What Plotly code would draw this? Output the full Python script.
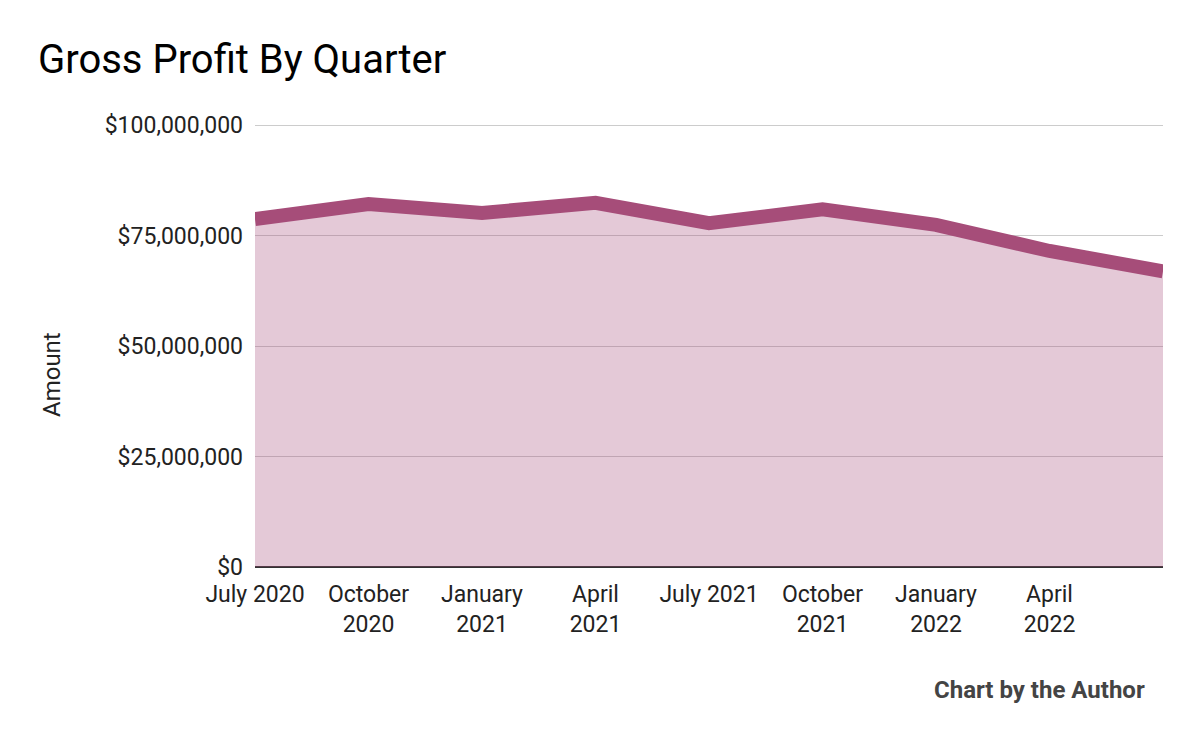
import plotly.graph_objects as go

quarters = ["July 2020", "October 2020", "January 2021", "April 2021", "July 2021",
            "October 2021", "January 2022", "April 2022", "July 2022"]
gross_profit = [78.7e6, 82.1e6, 80.1e6, 82.4e6, 77.8e6, 80.9e6, 77.4e6, 71.5e6, 66.9e6]
tick_labels = ["July 2020", "October<br>2020", "January<br>2021", "April<br>2021", "July 2021",
               "October<br>2021", "January<br>2022", "April<br>2022"]
y_ticks = [0, 25e6, 50e6, 75e6, 100e6]
y_tick_labels = ["$0", "$25,000,000", "$50,000,000", "$75,000,000", "$100,000,000"]

x_idx = list(range(len(quarters)))

# figure pixel geometry (page is offset by 8px body margin)
OFF = 8
W, H = 1200, 742
L, R = 255 - OFF, W - (1163 - OFF)
plot_bottom = 567 - OFF
grid_top = 125 - OFF
T = grid_top - 3
B = H - plot_bottom
y_top = 100e6 * (plot_bottom - T) / (plot_bottom - grid_top)

fig = go.Figure()
fig.add_trace(go.Scatter(
    x=x_idx, y=gross_profit, mode="lines",
    line=dict(color="#a64d79", width=14),
    fill="tozeroy", fillcolor="rgba(166,77,121,0.3)",
    hovertext=quarters, hoverinfo="text+y",
))

fig.update_layout(
    width=W, height=H,
    paper_bgcolor="white", plot_bgcolor="white",
    font=dict(family="Roboto", size=23, color="#222222"),
    margin=dict(l=L, r=R, t=T, b=B, autoexpand=False),
    showlegend=False,
    title=dict(text="Gross Profit By Quarter", x=(38 - OFF) / W, xanchor="left", xref="container",
               y=1 - (58.5 - OFF) / H, yanchor="middle", yref="container",
               font=dict(family="Roboto", size=40, color="#000000")),
)
fig.update_xaxes(
    range=[0, len(quarters) - 1], tickvals=x_idx[:len(tick_labels)], ticktext=tick_labels,
    showgrid=False, zeroline=False, showline=False, ticks="",
    tickfont=dict(size=23, color="#222222"), ticklabelstandoff=11,
)
fig.update_yaxes(
    range=[0, y_top], tickvals=y_ticks, ticktext=y_tick_labels,
    showgrid=True, gridcolor="#cccccc", gridwidth=1,
    zeroline=True, zerolinecolor="#333333", zerolinewidth=2,
    showline=False, ticks="", ticklabelstandoff=11,
    tickfont=dict(size=23, color="#222222"),
)

pw, ph = W - L - R, H - T - B
def px_to_paper(xp, yp):
    return (xp - OFF - L) / pw, (H - B - (yp - OFF)) / ph

ax, ay = px_to_paper(52, 375)
fig.add_annotation(text="Amount", x=ax, y=ay, xref="paper", yref="paper",
                   xanchor="center", yanchor="middle",
                   showarrow=False, textangle=-90, font=dict(size=24, color="#222222"))
cx, cy = px_to_paper(1147, 690)
fig.add_annotation(text="<b>Chart by the Author</b>", x=cx, y=cy, xref="paper", yref="paper",
                   xanchor="right", yanchor="middle", showarrow=False,
                   font=dict(size=24, color="#444444"))

fig.write_html("out.html")
